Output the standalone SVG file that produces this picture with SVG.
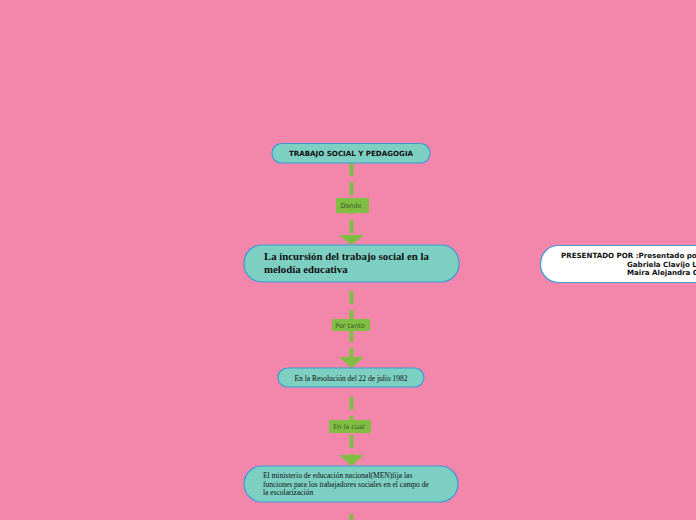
<svg xmlns="http://www.w3.org/2000/svg" width="696" height="520" viewBox="0 0 696 520">
<defs>
<style>
.node{fill:#7dcfc1;stroke:#3a9ad9;stroke-width:1.2}
.line{stroke:#7fbe42;stroke-width:4;stroke-dasharray:13 6;fill:none}
.head{fill:#7fbe42}
.lbl{fill:#7fbe42}
.lt{font-family:"DejaVu Sans",Verdana,sans-serif;font-size:6.5px;fill:#3d5a2b;text-anchor:middle}
.serif{font-family:"Liberation Serif","Times New Roman",serif;fill:#111}
.sans{font-family:"DejaVu Sans",Verdana,sans-serif;font-weight:bold;fill:#111}
</style>
</defs>
<rect width="696" height="520" fill="#f386ab"/>
<g id="connectors">
<line class="line" x1="351.5" y1="163" x2="351.5" y2="237"/>
<polygon class="head" points="339,235 364,235 351.5,245"/>
<rect class="lbl" x="336" y="198" width="33" height="15"/>
<text class="lt" x="351" y="208">Donde</text>

<line class="line" x1="351.5" y1="291" x2="351.5" y2="359"/>
<polygon class="head" points="339,357 364,357 351.5,368"/>
<rect class="lbl" x="332" y="319" width="38" height="12"/>
<text class="lt" x="350" y="327.5">Por tanto</text>

<line class="line" x1="351.5" y1="397" x2="351.5" y2="457"/>
<polygon class="head" points="339,455 364,455 351.5,466"/>
<rect class="lbl" x="329" y="420" width="42" height="13"/>
<text class="lt" x="349" y="429">En la cual</text>

<line class="line" x1="351.5" y1="514" x2="351.5" y2="520"/>
</g>
<g id="n1">
<rect class="node" x="272" y="143.5" width="158" height="19.5" rx="9.5"/>
<text class="sans" x="351" y="156" font-size="7.1" text-anchor="middle">TRABAJO SOCIAL Y PEDAGOGIA</text>
</g>
<g id="n2">
<rect class="node" x="244" y="245" width="215" height="37" rx="18"/>
<text class="serif" font-weight="bold" font-size="10.8"><tspan x="264" y="260">La incursión del trabajo social en la</tspan><tspan x="264" y="273">melodía educativa</tspan></text>
</g>
<g id="n3">
<rect class="node" x="278" y="368" width="146" height="19" rx="9.5"/>
<text class="serif" x="351" y="380.5" font-size="7.5" text-anchor="middle">En la Resolución del 22 de julio 1982</text>
</g>
<g id="n4">
<rect class="node" x="244" y="466" width="214" height="36" rx="18"/>
<text class="serif" font-size="7.5"><tspan x="263" y="478">El ministerio de educación nacional(MEN)fija las</tspan><tspan x="263" y="486.5">funciones para los trabajadores sociales en el campo de</tspan><tspan x="263" y="495">la escolarización</tspan></text>
</g>
<g id="n5">
<rect x="540.5" y="245.5" width="200" height="37" rx="18" fill="#ffffff" stroke="#3a9ad9" stroke-width="1.2"/>
<text class="sans" font-size="7.1"><tspan x="561" y="258">PRESENTADO POR :Presentado por:</tspan><tspan x="627" y="267">Gabriela Clavijo L</tspan><tspan x="627" y="275">Maira Alejandra C</tspan></text>
</g>
</svg>
